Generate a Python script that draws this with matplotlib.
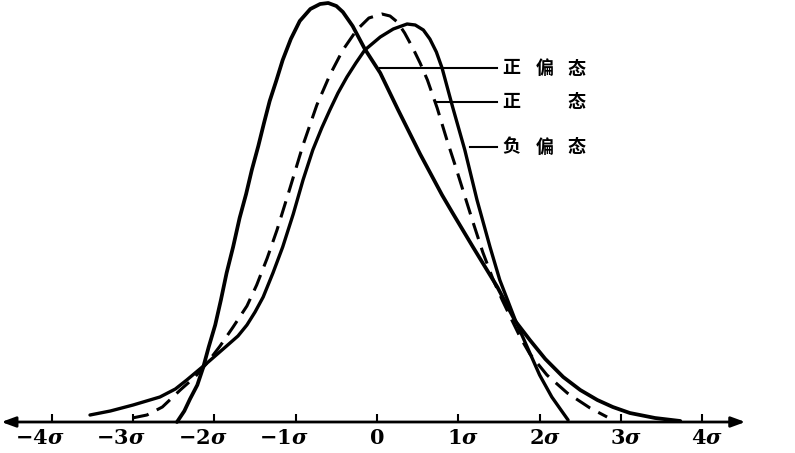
import matplotlib
matplotlib.use('Agg')
import matplotlib.pyplot as plt

plt.rcParams['mathtext.fontset'] = 'dejavuserif'

# 横轴刻度 (单位: σ)
tick_pos = [-4, -3, -2, -1, 0, 1, 2, 3, 4]
tick_labels = [r'$\mathbf{-4}\mathbfit{\sigma}$', r'$\mathbf{-3}\mathbfit{\sigma}$',
               r'$\mathbf{-2}\mathbfit{\sigma}$', r'$\mathbf{-1}\mathbfit{\sigma}$',
               r'$\mathbf{0}$', r'$\mathbf{1}\mathbfit{\sigma}$', r'$\mathbf{2}\mathbfit{\sigma}$',
               r'$\mathbf{3}\mathbfit{\sigma}$', r'$\mathbf{4}\mathbfit{\sigma}$']

# 正偏态 (峰在左, 右尾长)
pos_x = [-2.46, -2.37, -2.30, -2.21, -2.14, -2.07, -1.99, -1.92, -1.85, -1.77,
         -1.69, -1.61, -1.54, -1.46, -1.39, -1.32, -1.24, -1.16, -1.06, -0.95,
         -0.82, -0.70, -0.60, -0.50, -0.42, -0.30, -0.15, 0.04, 0.26, 0.53,
         0.80, 0.93, 1.18, 1.48, 1.70, 1.88, 2.07, 2.29, 2.50, 2.71,
         2.90, 3.11, 3.42, 3.73]
pos_y = [0.000, 0.011, 0.023, 0.037, 0.054, 0.075, 0.097, 0.122, 0.149, 0.175,
         0.204, 0.228, 0.252, 0.276, 0.299, 0.321, 0.341, 0.362, 0.383, 0.401,
         0.413, 0.418, 0.419, 0.416, 0.410, 0.396, 0.373, 0.349, 0.312, 0.268,
         0.227, 0.209, 0.175, 0.135, 0.101, 0.082, 0.063, 0.045, 0.032, 0.022,
         0.015, 0.009, 0.004, 0.001]

# 正态
norm_x = [-3.01, -2.83, -2.64, -2.42, -2.24, -2.09, -1.93, -1.77, -1.60, -1.48,
          -1.35, -1.23, -1.07, -0.91, -0.74, -0.58, -0.42, -0.25, -0.10, 0.06,
          0.16, 0.25, 0.34, 0.44, 0.53, 0.62, 0.74, 0.86, 0.96, 1.06,
          1.18, 1.30, 1.43, 1.54, 1.64, 1.76, 1.88, 2.09, 2.34, 2.62,
          2.83]
norm_y = [0.004, 0.007, 0.015, 0.032, 0.045, 0.059, 0.076, 0.095, 0.116, 0.137,
          0.164, 0.192, 0.234, 0.277, 0.317, 0.347, 0.372, 0.392, 0.404, 0.408,
          0.406, 0.400, 0.389, 0.374, 0.359, 0.342, 0.314, 0.282, 0.257, 0.231,
          0.200, 0.170, 0.142, 0.122, 0.105, 0.085, 0.068, 0.047, 0.029, 0.014,
          0.005]

# 负偏态 (峰在右, 左尾长)
neg_x = [-3.53, -3.28, -3.00, -2.67, -2.48, -2.34, -2.09, -1.85, -1.71, -1.60,
         -1.50, -1.40, -1.28, -1.16, -1.03, -0.91, -0.79, -0.68, -0.58, -0.48,
         -0.37, -0.26, -0.15, 0.04, 0.20, 0.37, 0.47, 0.57, 0.65, 0.73,
         0.80, 0.93, 1.08, 1.23, 1.39, 1.51, 1.61, 1.70, 1.82, 2.00,
         2.15, 2.28, 2.35]
neg_y = [0.007, 0.011, 0.017, 0.025, 0.033, 0.042, 0.059, 0.076, 0.086, 0.097,
         0.110, 0.125, 0.149, 0.175, 0.208, 0.242, 0.272, 0.294, 0.312, 0.329,
         0.345, 0.359, 0.372, 0.385, 0.393, 0.398, 0.397, 0.392, 0.383, 0.370,
         0.354, 0.315, 0.272, 0.222, 0.175, 0.142, 0.121, 0.102, 0.080, 0.047,
         0.025, 0.010, 0.002]

# 图注文字
label_names = ['正偏态', '正 态', '负偏态']

fig = plt.figure(figsize=(7.95, 4.53), dpi=100)
ax = fig.add_axes([0, 0, 1, 1])
ax.set_xlim(-4.637, 5.141)
ax.set_ylim(-0.031, 0.422)
ax.axis('off')

# 三条曲线
ax.plot(pos_x, pos_y, color='black', lw=2.7, solid_capstyle='round', solid_joinstyle='round')
ax.plot(neg_x, neg_y, color='black', lw=2.4, solid_capstyle='round', solid_joinstyle='round')
ax.plot(norm_x, norm_y, color='black', lw=2.2, linestyle=(0, (5.5, 3)), dash_capstyle='butt')

# 横轴 (两端箭头)
ax.annotate('', xy=(4.53, 0), xytext=(-4.62, 0),
            arrowprops=dict(arrowstyle='<|-|>,head_length=0.6,head_width=0.22',
                            lw=2, color='black', shrinkA=0, shrinkB=0,
                            mutation_scale=14))

# 刻度和刻度标签
ax.vlines(tick_pos, 0, 0.008, color='black', lw=1.5)
for t, lab in zip(tick_pos, tick_labels):
    off = -0.15 if t < 0 else (0.0 if t == 0 else 0.06)
    ax.text(t + off, -0.016, lab, ha='center', va='center', fontsize=15)

# 引线和图注
line_y = [0.354, 0.320, 0.275]
line_x0 = [0.04, 0.74, 1.14]
char_x = [1.65, 2.06, 2.45]
for name, y, x0 in zip(label_names, line_y, line_x0):
    ax.plot([x0, 1.48], [y, y], color='black', lw=1.5)
    for i, ch in enumerate(name):
        if ch == ' ':
            continue
        ax.text(char_x[i], y, ch, ha='center', va='center', fontsize=13,
                family=['Noto Sans CJK SC', 'DejaVu Sans'], fontweight='bold')

plt.savefig('out.png', dpi=100)
